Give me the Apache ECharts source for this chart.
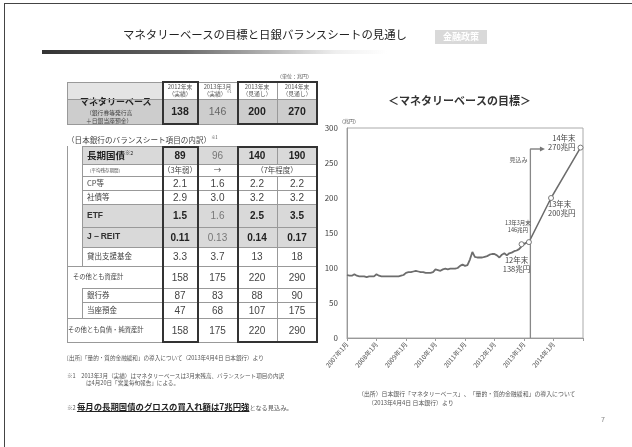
<!DOCTYPE html>
<html>
<head>
<meta charset="utf-8">
<script src="https://cdn.jsdelivr.net/npm/echarts@6/dist/echarts.min.js"></script>
<style>
  html, body { margin: 0; padding: 0; background: #fff; }
  body { width: 632px; height: 447px; position: relative; overflow: hidden;
         font-family: "Noto Sans CJK JP", "Noto Sans", sans-serif; color: #333; }
  #chart { position: absolute; left: 0; top: 0; width: 632px; height: 447px; }
  .abs { position: absolute; white-space: nowrap; }
  .frame { position: absolute; left: 4px; top: 3px; width: 640px; height: 460px;
           border-top: 1px solid #444; border-left: 1px solid #444; }
  .cell { position: absolute; box-sizing: border-box; display: flex;
          align-items: center; justify-content: center; line-height: 1.1; white-space: nowrap; }
  .box { position: absolute; box-sizing: border-box; border: 2px solid #333; }
  .hl { position: absolute; height: 1px; background: #999; }
  .vl { position: absolute; width: 1px; background: #999; }
  sup { font-size: 0.55em; line-height: 0; vertical-align: super; font-weight: normal; }
</style>
</head>
<body>
<div id="chart"></div>
<div class="frame"></div>
<div id="left"></div>

<script>
// ---- data ----
const colHeads = ['2012年末', '2013年3月', '2013年末', '2014年末'];
const colSubs = ['（実績）', '（実績）<sup>※1</sup>', '（見通し）', '（見通し）'];
const mbValues = ['138', '146', '200', '270'];

const bsLabels = ['長期国債', '（平均残存期間）', 'CP等', '社債等', 'ETF', 'J－REIT',
  '貸出支援基金', 'その他とも資産計', '銀行券', '当座預金', 'その他とも負債・純資産計'];
const bsValues = [
  ['89', '96', '140', '190'],
  ['（3年弱）', '→', '（7年程度）', ''],
  ['2.1', '1.6', '2.2', '2.2'],
  ['2.9', '3.0', '3.2', '3.2'],
  ['1.5', '1.6', '2.5', '3.5'],
  ['0.11', '0.13', '0.14', '0.17'],
  ['3.3', '3.7', '13', '18'],
  ['158', '175', '220', '290'],
  ['87', '83', '88', '90'],
  ['47', '68', '107', '175'],
  ['158', '175', '220', '290'],
];

// monetary base, monthly, 2007-01 .. 2013-03 (兆円)
const startYear = 2007;
const actual = [
  90, 89, 89, 91, 89, 88, 88, 88, 87, 88, 88, 88,
  91, 89, 88, 88, 88, 88, 88, 88, 88, 88, 89, 90,
  93, 94, 94, 95, 96, 95, 94, 94, 93, 93, 93, 94,
  98, 97, 96, 98, 99, 98, 99, 99, 99, 100, 103, 105,
  103, 104, 112, 123, 116, 115, 115, 115, 116, 117, 119, 120,
  120, 118, 115, 119, 121, 118, 121, 122, 124, 125, 127, 131,
  134, 136, 137,
];
// target points (month index from 2007-01)
const targetMonths = [71, 74, 83, 95];
const targetValues = [134, 137, 200, 272];
const targetLabels = ['12年末\n138兆円', '13年3月末\n146兆円', '13年末\n200兆円', '14年末\n270兆円'];
const outlookMonth = 74.6;
const outlookTop = 270;
const arrowMonth = 79.5;

// ---- left panel (table + titles) ----
const NUM = "font-family:Arial,'Liberation Sans',sans-serif;";
const colX = [67, 162, 198, 237, 277, 317];
const rowY = [146, 164, 176, 190, 204, 227, 247, 266, 288, 302, 318, 342];
const grayRows = [0, 4, 5];
const fullRows = [7, 10];

let h = '';
const t = (x, y, txt, css) => { h += `<div class="abs" style="left:${x}px;top:${y}px;${css || ''}">${txt}</div>`; };
const c = (x, y, w, hh, txt, css) => { h += `<div class="cell" style="left:${x}px;top:${y}px;width:${w}px;height:${hh}px;${css || ''}"><div>${txt}</div></div>`; };
const hl = (x1, x2, y) => { h += `<div class="hl" style="left:${x1}px;top:${y}px;width:${x2 - x1}px"></div>`; };
const vl = (x, y1, y2) => { h += `<div class="vl" style="left:${x}px;top:${y1}px;height:${y2 - y1}px"></div>`; };

// page title
t(123, 26, 'マネタリーベースの目標と日銀バランスシートの見通し', 'font-size:11.4px;color:#222;');
h += '<div class="abs" style="left:42px;top:50px;width:345px;height:4px;background:linear-gradient(to right,#333,#666 40%,rgba(200,200,200,0.3) 85%,rgba(255,255,255,0));"></div>';
c(435, 30, 52, 14, '金融政策', 'background:#d9d9d9;color:#fff;font-size:9px;font-weight:bold;');

// block 1
t(277, 72, '（単位：兆円）', 'font-size:5px;color:#555;');
c(colX[0], 82, colX[1] - colX[0], 17, '', 'background:#e4e4e4;');
c(colX[0], 99, colX[5] - colX[0], 25, '', 'background:#cdcdcd;');
for (let i = 0; i < 4; i++) {
  c(colX[i + 1], 82, colX[i + 2] - colX[i + 1], 17, colHeads[i] + '<br>' + colSubs[i],
    'font-size:5.8px;color:#555;text-align:center;');
  const bold = i !== 1;
  c(colX[i + 1], 99, colX[i + 2] - colX[i + 1], 25, mbValues[i],
    'font-size:10.5px;' + NUM + (bold ? 'font-weight:bold;color:#222;' : 'color:#666;'));
}
t(80, 95, 'マネタリーベース', 'font-size:9px;font-weight:bold;color:#222;');
t(86, 108, '（銀行券等発行高', 'font-size:5.8px;color:#444;');
t(86, 116, '＋日銀当座預金）', 'font-size:5.8px;color:#444;');
hl(colX[0], colX[5], 82); hl(colX[0], colX[5], 99); hl(colX[0], colX[5], 124);
vl(colX[0], 82, 124);
for (let i = 1; i < 6; i++) vl(colX[i], 82, 124);

// block 2
t(67, 134, '（日本銀行のバランスシート項目の内訳）<sup>※1</sup>', 'font-size:7.6px;color:#444;');
for (let r = 0; r < bsLabels.length; r++) {
  const y0 = rowY[r], y1 = rowY[r + 1], hh = y1 - y0;
  const full = fullRows.includes(r);
  const lx = full ? colX[0] : 82;
  if (grayRows.includes(r)) c(lx, y0, colX[5] - lx, hh, '', 'background:#d9d9d9;');
  // label
  let lcss = 'font-size:7.5px;color:#444;';
  let label = bsLabels[r];
  if (r === 0) { lcss = 'font-size:9.5px;font-weight:bold;color:#222;'; label += '<sup>※2</sup>'; }
  if (r === 1) lcss = 'font-size:4.5px;color:#555;';
  if (r === 4 || r === 5) lcss = 'font-size:8.5px;font-weight:bold;color:#333;' + NUM;
  if (full) lcss = 'font-size:6.3px;color:#444;';
  const lpad = full ? (r === 7 ? 6 : 1) : 5;
  c(lx + lpad, y0, colX[1] - lx - lpad, hh, label, lcss + 'justify-content:flex-start;');
  // values
  for (let i = 0; i < 4; i++) {
    const v = bsValues[r][i];
    let w = colX[i + 2] - colX[i + 1];
    if (r === 1 && i === 2) w = colX[5] - colX[3];
    if (r === 1 && i === 3) continue;
    const emph = r === 0 || r === 4 || r === 5;
    let vcss = r === 1 ? 'font-size:7.5px;' : 'font-size:10px;' + NUM;
    if (emph && i !== 1) vcss += 'font-weight:bold;color:#222;';
    else if (emph) vcss += 'color:#777;';
    else vcss += 'color:#444;';
    c(colX[i + 1], y0, w, hh, v, vcss);
  }
  hl(lx, colX[5], y0);
  vl(lx, y0, y1);
  for (let i = 1; i < 6; i++) {
    if (r === 1 && i === 4) continue;
    vl(colX[i], y0, y1);
  }
}
hl(colX[0], colX[5], rowY[rowY.length - 1]);
// indent columns
vl(colX[0], rowY[0], rowY[7]);
vl(colX[0], rowY[8], rowY[10]);

// emphasis boxes
h += `<div class="box" style="left:${colX[1]}px;top:81px;width:${colX[2] - colX[1] + 1}px;height:44px"></div>`;
h += `<div class="box" style="left:${colX[3]}px;top:81px;width:${colX[5] - colX[3] + 1}px;height:44px"></div>`;
h += `<div class="box" style="left:${colX[1]}px;top:${rowY[0]}px;width:${colX[2] - colX[1] + 1}px;height:${rowY[11] - rowY[0] + 1}px"></div>`;
h += `<div class="box" style="left:${colX[3]}px;top:${rowY[0]}px;width:${colX[5] - colX[3] + 1}px;height:${rowY[11] - rowY[0] + 1}px"></div>`;

// notes
t(67, 354, '[出所]「量的・質的金融緩和」の導入について（2013年4月4日 日本銀行）より', 'font-size:5.6px;color:#555;');
t(67, 372, '※1　2013年3月（実績）はマネタリーベースは3月末残高、バランスシート項目の内訳', 'font-size:5.6px;color:#555;');
t(86, 379, 'は4月20日「営業毎旬報告」による。', 'font-size:5.6px;color:#555;');
t(67, 391, '<span style="font-size:5.6px;color:#555">※2 </span><span style="font-size:8.4px;font-weight:bold;text-decoration:underline;color:#222">毎月の長期国債のグロスの買入れ額は7兆円強</span><span style="font-size:6.2px;color:#555">となる見込み。</span>', '');
t(358, 389, '（出所）日本銀行「マネタリーベース」、「量的・質的金融緩和」の導入について', 'font-size:5.9px;color:#555;');
t(368, 398, '（2013年4月4日 日本銀行）より', 'font-size:5.9px;color:#555;');
t(601, 414, '7', 'font-size:7px;color:#888;');

document.getElementById('left').innerHTML = h;

// ---- chart ----
const chart = echarts.init(document.getElementById('chart'));
const labelPos = [
  { position: 'bottom', offset: [-5, 3], fontSize: 7.5 },
  { position: 'top', offset: [-11, -1], fontSize: 5.5 },
  { position: 'right', distance: 0, offset: [-6, 11], fontSize: 7.5 },
  { position: 'left', distance: 2, offset: [0, -5], fontSize: 7.5 },
];

chart.setOption({
  animation: false,
  textStyle: { fontFamily: '"Noto Sans CJK JP", sans-serif' },
  title: {
    text: '＜マネタリーベースの目標＞',
    left: 388,
    top: 95,
    padding: 0,
    textStyle: { fontSize: 11, fontWeight: 'bold', color: '#333' },
  },
  grid: { left: 347, right: 49, top: 128, bottom: 109, show: true, borderColor: '#aaa', borderWidth: 1 },
  xAxis: {
    type: 'value',
    min: 0,
    max: 96,
    interval: 12,
    splitLine: { show: false },
    axisLine: { lineStyle: { color: '#999' } },
    axisTick: { show: true, length: 3, lineStyle: { color: '#999' } },
    axisLabel: {
      rotate: 50,
      fontSize: 6.5,
      color: '#555',
      margin: 5,
      formatter: (v) => (v < 96 ? startYear + v / 12 + '年1月' : ''),
    },
  },
  yAxis: {
    type: 'value',
    min: 0,
    max: 300,
    interval: 50,
    name: '（兆円）',
    nameGap: 4,
    nameTextStyle: { fontSize: 5, color: '#555', align: 'left', padding: [0, 0, 0, -8] },
    splitLine: { show: false },
    axisLine: { show: true, lineStyle: { color: '#999' } },
    axisTick: { show: false },
    axisLabel: { fontSize: 8, color: '#444', margin: 9 },
  },
  series: [
    {
      name: 'マネタリーベース',
      type: 'line',
      data: actual.map((v, i) => [i, v]),
      symbol: 'none',
      lineStyle: { color: '#6d6d6d', width: 1.8 },
      z: 2,
    },
    {
      name: '見込み',
      type: 'line',
      data: [
        { value: [outlookMonth, 0], symbolSize: 0 },
        {
          value: [outlookMonth, outlookTop],
          symbolSize: 0,
          label: { show: true, formatter: '見込み', position: 'left', distance: 3, offset: [0, 11], fontSize: 6, color: '#555' },
        },
        { value: [arrowMonth, outlookTop], symbol: 'path://M0,0 L10,5 L0,10 Z', symbolSize: [5, 5] },
      ],
      symbol: 'circle',
      showSymbol: true,
      itemStyle: { color: '#777' },
      lineStyle: { color: '#888', width: 1.3 },
      z: 1,
    },
    {
      name: '目標',
      type: 'line',
      data: targetMonths.map((m, i) => ({
        value: [m, targetValues[i]],
        label: {
          show: true,
          formatter: targetLabels[i],
          color: '#444',
          lineHeight: labelPos[i].fontSize + 1.5,
          ...labelPos[i],
        },
      })),
      symbol: 'circle',
      symbolSize: 5,
      itemStyle: { color: '#fff', borderColor: '#777', borderWidth: 1 },
      lineStyle: { color: '#6d6d6d', width: 1.5 },
      z: 3,
    },
  ],
});
</script>
</body>
</html>
